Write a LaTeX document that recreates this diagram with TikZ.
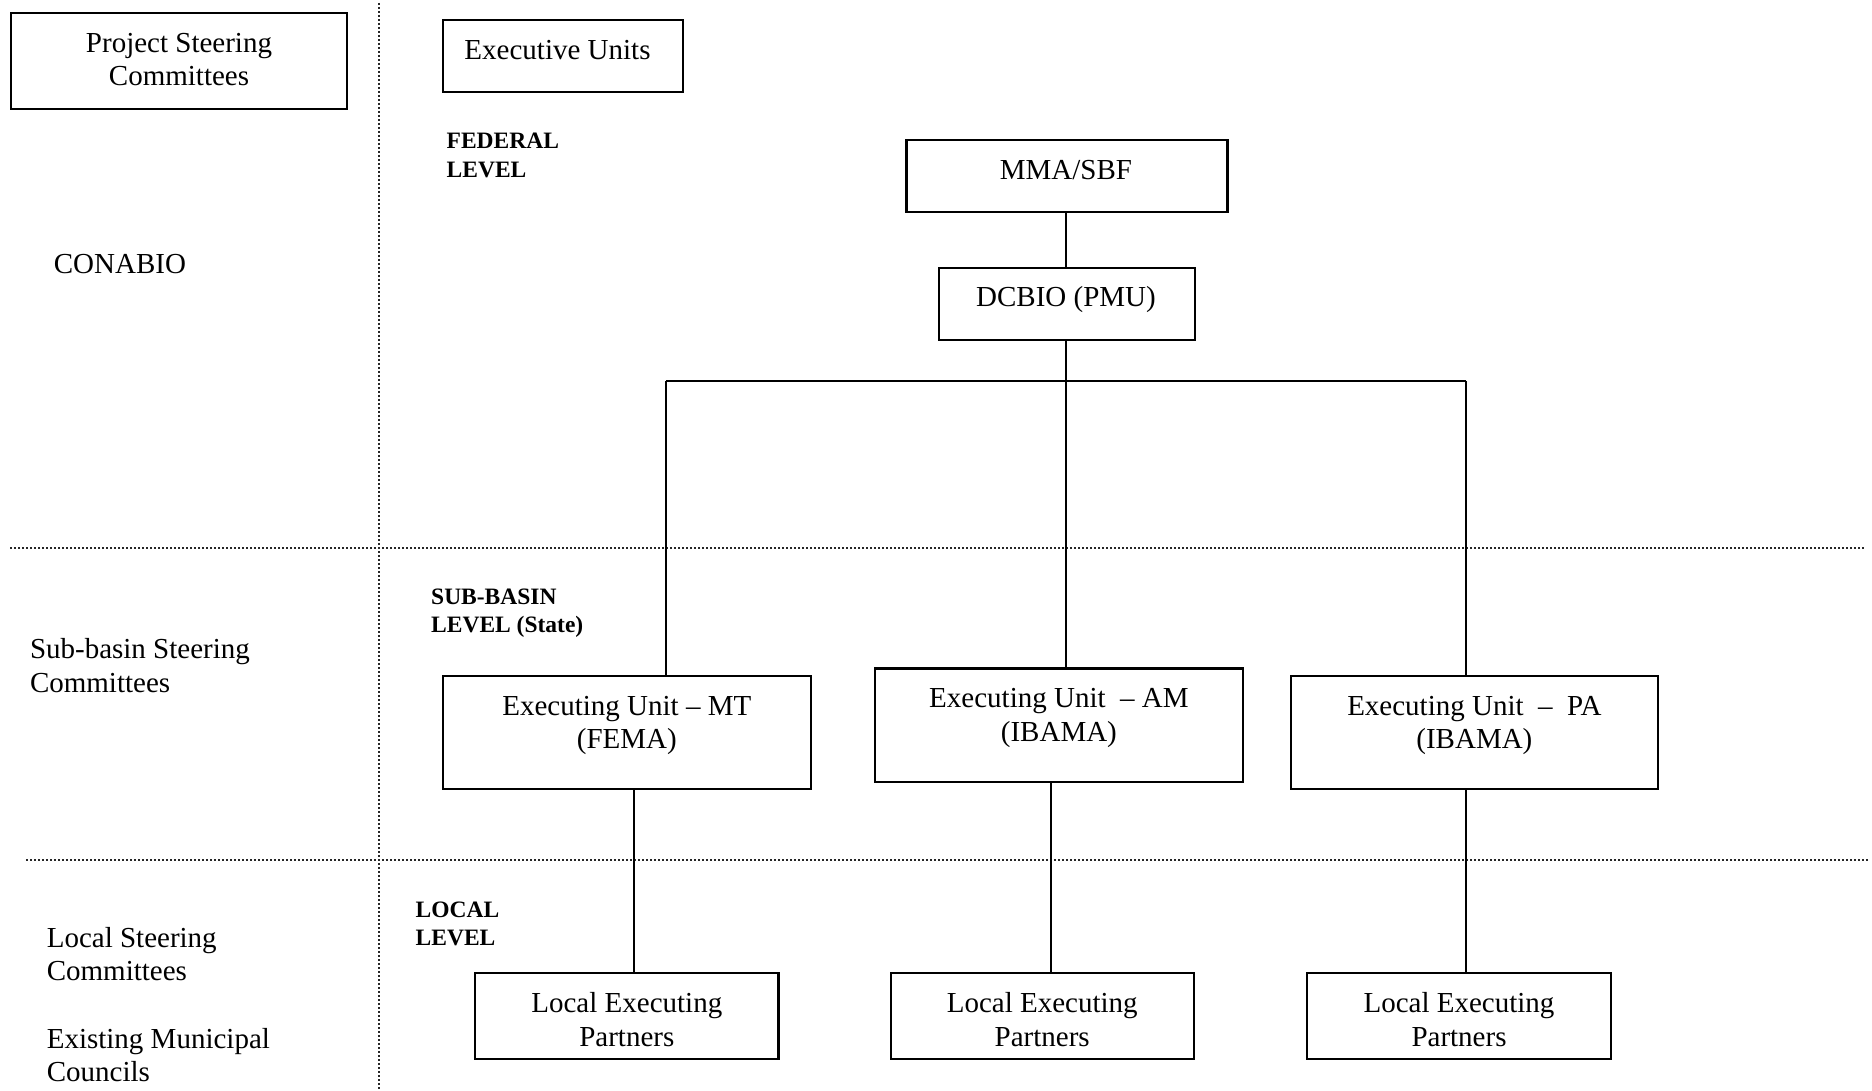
\documentclass[tikz,border=0pt]{standalone}
\usepackage{fontspec}
\setmainfont{Liberation Serif}
\begin{document}
\begin{tikzpicture}[x=1pt,y=-1pt,
  box/.style={draw=black,line width=2.2pt,rectangle,inner sep=0pt},
  conn/.style={draw=black,line width=2pt},
  sep/.style={draw=black!85,line width=1.6pt,dash pattern=on 2pt off 2pt},
  txt/.style={font=\fontsize{29}{33.4}\selectfont,align=center,inner sep=0pt},
  ltxt/.style={font=\fontsize{29}{33.4}\selectfont,align=left,anchor=west,inner sep=0pt},
  lvl/.style={font=\fontsize{23.5}{28.5}\selectfont\bfseries,align=left,anchor=west,inner sep=0pt}]
\useasboundingbox (0,0) rectangle (1872,1091);
% separators
\coordinate (v1) at (379,3);
\coordinate (v2) at (379,1091);
\coordinate (h1a) at (10,548);
\coordinate (h1b) at (1865,548);
\coordinate (h2a) at (26,860);
\coordinate (h2b) at (1868,860);
\draw[sep] (v1) -- (v2);
\draw[sep] (h1a) -- (h1b);
\draw[sep] (h2a) -- (h2b);
% boxes
\node[box,minimum width=336.7pt,minimum height=95.5pt] (psc) at (179,60.9) {};
\node[box,minimum width=240pt,minimum height=71.6pt] (eu) at (563,56.1) {};
\node[box,minimum width=321pt,minimum height=72pt] (mma) at (1067,176) {};
\node[box,minimum width=256pt,minimum height=72.5pt] (dcbio) at (1067,304) {};
\node[box,minimum width=367.6pt,minimum height=113.5pt] (eumt) at (626.8,732.4) {};
\node[box,minimum width=367.6pt,minimum height=113.5pt] (euam) at (1058.9,725.3) {};
\node[box,minimum width=367.6pt,minimum height=113.5pt] (eupa) at (1474.4,732.4) {};
\node[box,minimum width=303.4pt,minimum height=86pt] (lep1) at (626.7,1016) {};
\node[box,minimum width=303.4pt,minimum height=86pt] (lep2) at (1042.3,1016) {};
\node[box,minimum width=303.4pt,minimum height=86pt] (lep3) at (1458.9,1016) {};
% box texts
\node[txt] (tpsc) at (179,59.5) {Project Steering\\Committees};
\node[txt] (teu) at (557.5,50) {Executive Units};
\node[txt] (tmma) at (1066,170) {MMA/SBF};
\node[txt] (tdcbio) at (1066,299.5) {DCBIO (PMU)};
\node[txt] (teumt) at (626.8,725.5) {Executing Unit -- MT\\(FEMA)};
\node[txt] (teuam) at (1058.9,718) {Executing Unit\ \ -- AM\\(IBAMA)};
\node[txt] (teupa) at (1474.4,725.5) {Executing Unit\ \ --\ \ PA\\(IBAMA)};
\node[txt] (tlep1) at (626.8,1019.5) {Local Executing\\Partners};
\node[txt] (tlep2) at (1042.2,1019.5) {Local Executing\\Partners};
\node[txt] (tlep3) at (1459,1019.5) {Local Executing\\Partners};
% left labels
\node[ltxt] (conabio) at (53.7,264.5) {CONABIO};
\node[ltxt] (sbsc) at (29.8,665.5) {Sub-basin Steering\\Committees};
\node[ltxt] (lsc) at (46.6,954) {Local Steering\\Committees};
\node[ltxt] (emc) at (46.6,1055) {Existing Municipal\\Councils};
% level labels
\node[lvl] (fed) at (446.5,155.5) {FEDERAL\\LEVEL};
\node[lvl] (sub) at (431,613) {SUB-BASIN\\LEVEL (State)};
\node[lvl] (loc) at (415.5,924) {LOCAL\\LEVEL};
% connectors
\coordinate (bus) at (1066,380.8);
\coordinate (busl) at (666,380.8);
\coordinate (busr) at (1466,380.8);
\coordinate (d1) at (634,0);
\coordinate (d2) at (1050.6,0);
\coordinate (d3) at (1466,0);
\draw[conn] (mma.south -| bus) -- (dcbio.north -| bus);
\draw[conn] (dcbio.south -| bus) -- (bus);
\draw[conn] (busl) -- (busr);
\draw[conn] (busl) -- (busl |- eumt.north);
\draw[conn] (bus) -- (bus |- euam.north);
\draw[conn] (busr) -- (busr |- eupa.north);
\draw[conn] (eumt.south -| d1) -- (lep1.north -| d1);
\draw[conn] (euam.south -| d2) -- (lep2.north -| d2);
\draw[conn] (eupa.south -| d3) -- (lep3.north -| d3);
\end{tikzpicture}
\end{document}
